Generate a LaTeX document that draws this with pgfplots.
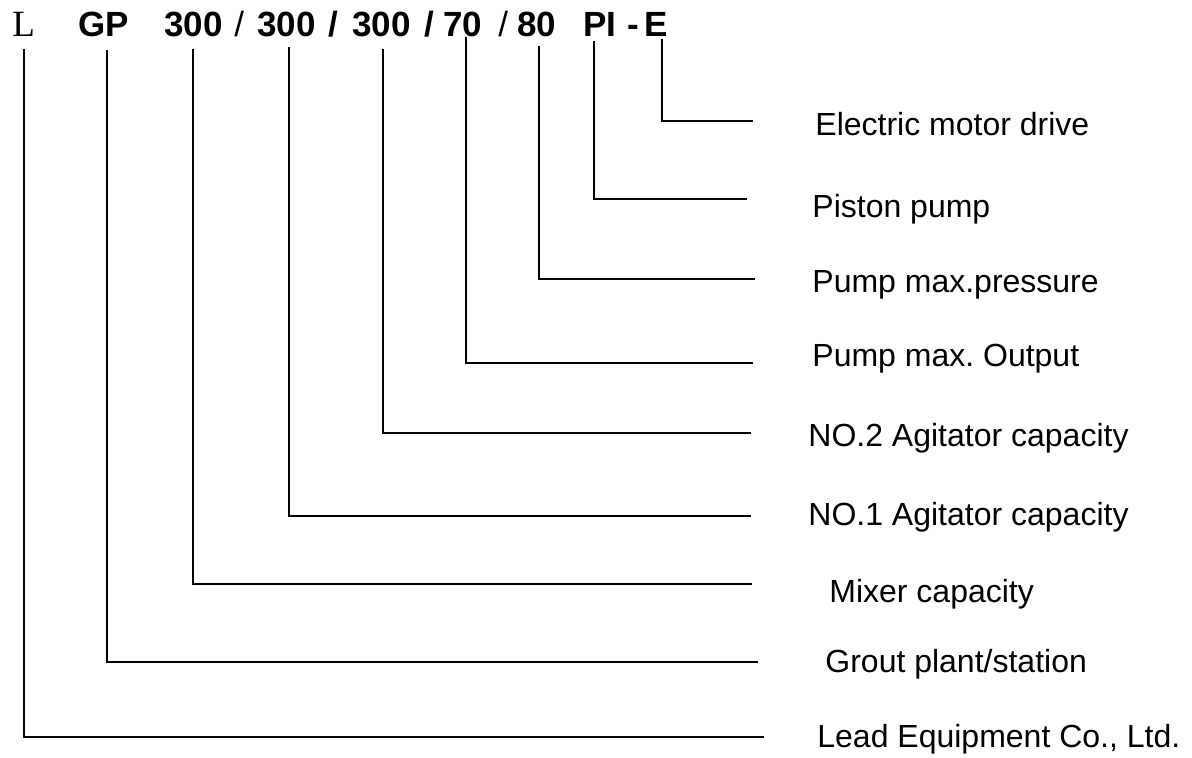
\documentclass[border=0pt]{standalone}
\usepackage{pgfplots}
\pgfplotsset{compat=1.18}
\usepackage{fontspec}
\setmainfont{Liberation Sans}
\newfontfamily\serifL{Liberation Serif}
\frenchspacing
\begin{document}
\begin{tikzpicture}
\begin{axis}[
  scale only axis, width=596pt, height=379pt,
  xmin=0, xmax=1192, ymin=0, ymax=758, y dir=reverse,
  hide axis, clip=false,
  conn/.style={black, solid, line width=1pt, line join=miter, mark=none},
]
\path (rel axis cs:0,0) rectangle (rel axis cs:1,1);
% connector lines (pixel coordinates, y downward)
\addplot[conn] coordinates {(24,49) (24,737) (764,737)};
\addplot[conn] coordinates {(107,50) (107,662) (758,662)};
\addplot[conn] coordinates {(193,49) (193,584) (752,584)};
\addplot[conn] coordinates {(289,47) (289,516) (751,516)};
\addplot[conn] coordinates {(383,49) (383,433) (751,433)};
\addplot[conn] coordinates {(466,37) (466,363) (753,363)};
\addplot[conn] coordinates {(539,46) (539,279) (755,279)};
\addplot[conn] coordinates {(594,41) (594,199) (747,199)};
\addplot[conn] coordinates {(662,39) (662,121) (753,121)};
% code line
\begin{scope}[every node/.style={anchor=base west, inner sep=0pt, font=\fontsize{17.5}{20}\selectfont\bfseries}]
\node[font=\fontsize{18.5}{20}\selectfont\serifL] at (axis cs:12,37) {L};
\node at (axis cs:78,37) {GP};
\node at (axis cs:164,37) {300};
\node[font=\fontsize{17.5}{20}\selectfont] at (axis cs:234,37) {/};
\node at (axis cs:257,37) {300};
\node at (axis cs:328,37) {/};
\node at (axis cs:352,37) {300};
\node at (axis cs:424,37) {/};
\node at (axis cs:443,37) {70};
\node[font=\fontsize{17.5}{20}\selectfont] at (axis cs:498,37) {/};
\node at (axis cs:517,37) {80};
\node at (axis cs:583,37) {PI};
\node at (axis cs:627,37) {-};
\node at (axis cs:644,37) {E};
\end{scope}
% labels
\begin{scope}[every node/.style={anchor=base west, inner sep=0pt, font=\fontsize{16}{19}\selectfont}]
\node at (axis cs:815,136) {Electric motor drive};
\node at (axis cs:812,218) {Piston pump};
\node at (axis cs:812,293) {Pump max.pressure};
\node at (axis cs:812,367) {Pump max. Output};
\node at (axis cs:808,446) {NO.2 Agitator capacity};
\node at (axis cs:808,525) {NO.1 Agitator capacity};
\node at (axis cs:829,602) {Mixer capacity};
\node at (axis cs:825,672) {Grout plant/station};
\node at (axis cs:817,747) {Lead Equipment Co., Ltd.};
\end{scope}
\end{axis}
\end{tikzpicture}
\end{document}
